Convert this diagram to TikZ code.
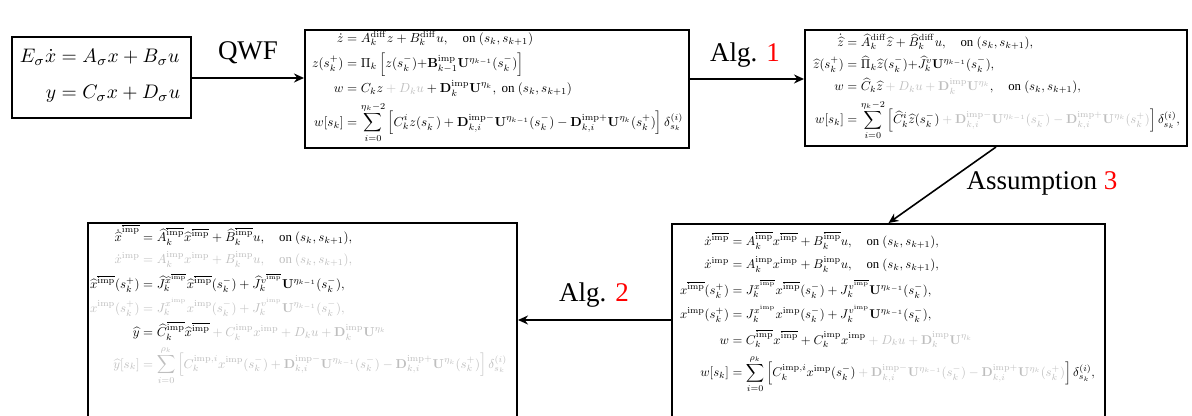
\documentclass[tikz,border=0pt]{standalone}
\usepackage{amsmath}
\usepackage[no-math]{fontspec}
\setmainfont{Liberation Serif}
\usepackage{graphicx}
\usetikzlibrary{arrows.meta}
\definecolor{faint}{gray}{0.75}
\newcommand{\imp}{\mathrm{imp}}
\newcommand{\nimp}{\overline{\mathrm{imp}}}
\newcommand{\fa}[1]{\textcolor{faint}{#1}}
\newcommand{\onint}{\text{on }(s_k,s_{k+1})}
\begin{document}
\begin{tikzpicture}[x=0.5pt,y=-0.5pt,
  box/.style={draw, line width=1pt, inner sep=0pt},
  lbl/.style={font=\fontsize{13.5}{16}\selectfont, inner sep=0pt},
  conn/.style={line width=0.8pt, -{Stealth[length=5pt,width=4.5pt]}},
  eq/.style={inner sep=0pt}]
\useasboundingbox (0,0) rectangle (1192,416);
\clip (0,0) rectangle (1192,416);

\node[box, minimum width=89.5pt, minimum height=40.5pt] (b1) at (101.5,77.5) {};
\node[box, minimum width=192pt, minimum height=59pt] (b2) at (497,89) {};
\node[box, minimum width=191pt, minimum height=58pt] (b3) at (996,88) {};
\node[box, minimum width=216.5pt, minimum height=118pt] (b4) at (888.5,342) {};
\node[box, minimum width=214.5pt, minimum height=118.5pt] (b5) at (302.5,341.5) {};

\node[eq] (e1) at (100,76) {\resizebox{80pt}{!}{$\begin{aligned}
E_\sigma\dot{x} &= A_\sigma x + B_\sigma u\\[3.5pt]
y &= C_\sigma x + D_\sigma u
\end{aligned}$}};

\node[eq] (e2) at (497.5,87) {\resizebox{185.5pt}{!}{$\begin{aligned}
\dot z &= A_k^{\mathrm{diff}} z + B_k^{\mathrm{diff}} u, \quad \onint\\
z(s_k^+) &= \Pi_k\left[z(s_k^-){+}\mathbf{B}_{k-1}^{\imp}\mathbf{U}^{\eta_{k-1}}(s_k^-)\right]\\[-1pt]
w &= C_k z \fa{{}+D_k u} + \mathbf{D}_k^{\imp}\mathbf{U}^{\eta_k},\ \onint\\
w[s_k] &= \sum_{i=0}^{\eta_k-2}\left[C_k^i z(s_k^-) + \mathbf{D}_{k,i}^{\imp-}\mathbf{U}^{\eta_{k-1}}(s_k^-) - \mathbf{D}_{k,i}^{\imp+}\mathbf{U}^{\eta_k}(s_k^+)\right]\delta_{s_k}^{(i)}
\end{aligned}$}};

\node[eq] (e3) at (996.5,87) {\resizebox{183.5pt}{!}{$\begin{aligned}
\dot{\widehat{z}} &= \widehat{A}_k^{\mathrm{diff}}\widehat{z} + \widehat{B}_k^{\mathrm{diff}}u, \quad \onint,\\
\widehat{z}(s_k^+) &= \widehat{\Pi}_k\widehat{z}(s_k^-){+}\widehat{J}_k^{v}\mathbf{U}^{\eta_{k-1}}(s_k^-),\\
w &= \widehat{C}_k\widehat{z}\fa{{}+D_k u+\mathbf{D}_k^{\imp}\mathbf{U}^{\eta_k}}, \quad \onint,\\
w[s_k] &= \sum_{i=0}^{\eta_k-2}\left[\widehat{C}_k^i\widehat{z}(s_k^-)\fa{{}+\mathbf{D}_{k,i}^{\imp-}\mathbf{U}^{\eta_{k-1}}(s_k^-)-\mathbf{D}_{k,i}^{\imp+}\mathbf{U}^{\eta_k}(s_k^+)}\right]\delta_{s_k}^{(i)},
\end{aligned}$}};

\node[eq, anchor=north] (e4) at (887.5,231) {\resizebox{207.5pt}{!}{$\begin{aligned}
\dot{x}^{\nimp} &= A_k^{\nimp}x^{\nimp} + B_k^{\nimp}u, \quad \onint,\\[1pt]
\dot{x}^{\imp} &= A_k^{\imp}x^{\imp} + B_k^{\imp}u, \quad \onint,\\[1pt]
x^{\nimp}(s_k^+) &= J_k^{x^{\nimp}}x^{\nimp}(s_k^-) + J_k^{v^{\nimp}}\mathbf{U}^{\eta_{k-1}}(s_k^-),\\[1pt]
x^{\imp}(s_k^+) &= J_k^{x^{\imp}}x^{\imp}(s_k^-) + J_k^{v^{\imp}}\mathbf{U}^{\eta_{k-1}}(s_k^-),\\[1pt]
w &= C_k^{\nimp}x^{\nimp} + C_k^{\imp}x^{\imp}\fa{{}+D_k u+\mathbf{D}_k^{\imp}\mathbf{U}^{\eta_k}}\\[1pt]
w[s_k] &= \sum_{i=0}^{\rho_k}\left[C_k^{\imp,i}x^{\imp}(s_k^-)\fa{{}+\mathbf{D}_{k,i}^{\imp-}\mathbf{U}^{\eta_{k-1}}(s_k^-)-\mathbf{D}_{k,i}^{\imp+}\mathbf{U}^{\eta_k}(s_k^+)}\right]\delta_{s_k}^{(i)},
\end{aligned}$}};

\node[eq, anchor=north] (e5) at (298.5,224) {\resizebox{208.5pt}{!}{$\begin{aligned}
\dot{\widehat{x}}^{\nimp} &= \widehat{A}_k^{\nimp}\widehat{x}^{\nimp} + \widehat{B}_k^{\nimp}u, \quad \onint,\\
\fa{\dot{x}^{\imp}} &\fa{{}= A_k^{\imp}x^{\imp} + B_k^{\imp}u, \quad \onint,}\\
\widehat{x}^{\nimp}(s_k^+) &= \widehat{J}_k^{\widehat{x}^{\nimp}}\widehat{x}^{\nimp}(s_k^-) + \widehat{J}_k^{v^{\nimp}}\mathbf{U}^{\eta_{k-1}}(s_k^-),\\
\fa{x^{\imp}(s_k^+)} &\fa{{}= J_k^{x^{\imp}}x^{\imp}(s_k^-) + J_k^{v^{\imp}}\mathbf{U}^{\eta_{k-1}}(s_k^-),}\\
\widehat{y} &= \widehat{C}_k^{\nimp}\widehat{x}^{\nimp}\fa{{}+C_k^{\imp}x^{\imp}+D_k u+\mathbf{D}_k^{\imp}\mathbf{U}^{\eta_k}}\\
\fa{\widehat{y}[s_k]} &\fa{{}= \sum_{i=0}^{\rho_k}\left[C_k^{\imp,i}x^{\imp}(s_k^-)+\mathbf{D}_{k,i}^{\imp-}\mathbf{U}^{\eta_{k-1}}(s_k^-)-\mathbf{D}_{k,i}^{\imp+}\mathbf{U}^{\eta_k}(s_k^+)\right]\delta_{s_k}^{(i)}}
\end{aligned}$}};

\coordinate (r1) at (0,78);
\coordinate (r2) at (0,79);
\coordinate (r3) at (0,320);
\draw[conn] (b1.east |- r1) -- (b2.west |- r1);
\draw[conn] (b2.east |- r2) -- (b3.west |- r2);
\draw[conn] (b3.south) -- (b4.north);
\draw[conn] (b4.west |- r3) -- (b5.east |- r3);

\node[lbl] (l1) at (248,53) {QWF};
\node[lbl] (l2) at (745,55) {Alg. \textcolor{red}{1}};
\node[lbl] (l3) at (1042,183) {Assumption \textcolor{red}{3}};
\node[lbl] (l4) at (594,295) {Alg. \textcolor{red}{2}};
\end{tikzpicture}
\end{document}
